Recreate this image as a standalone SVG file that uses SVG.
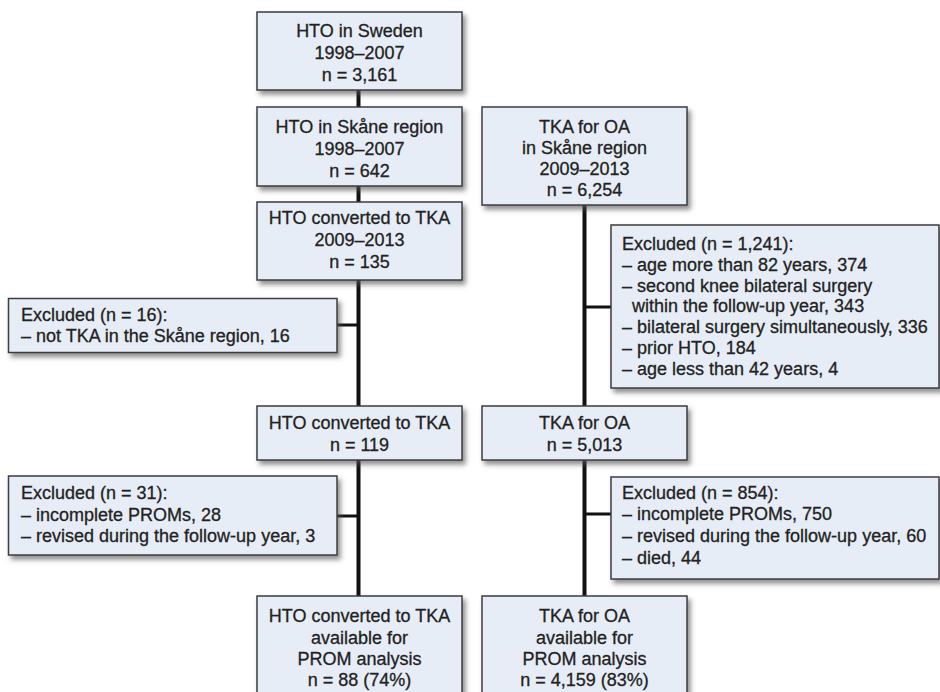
<svg xmlns="http://www.w3.org/2000/svg" width="940" height="692" viewBox="0 0 940 692">
<style>
.box{fill:#e7edf6;stroke:#3c3c3c;stroke-width:1.5;filter:url(#sh)}
text{font-family:"Liberation Sans",Arial,sans-serif;font-size:18px;fill:#222;stroke:#222;stroke-width:0.3}
.c{text-anchor:middle}
.v{stroke:#111;stroke-width:4;fill:none}
.h{stroke:#111;stroke-width:3;fill:none}
</style>
<defs>
<filter id="sh" x="-10%" y="-10%" width="130%" height="140%">
<feDropShadow dx="3" dy="4" stdDeviation="2.5" flood-color="#555" flood-opacity="0.65"/>
</filter>
</defs>
<rect width="940" height="692" fill="#fff"/>
<g id="connectors">
<path class="v" d="M358.5 90V107M358.5 186V202M358.5 280V406M358.5 460V596"/>
<path class="v" d="M584.5 205V406M584.5 460V596"/>
<path class="h" d="M337 325H358.5M337 516H358.5M584.5 307H611M584.5 514H611"/>
</g>
<g id="n1"><rect class="box" x="257" y="12" width="205" height="78"/>
<text class="c" x="359.5" y="37">HTO in Sweden</text><text class="c" x="359.5" y="59">1998–2007</text><text class="c" x="359.5" y="81">n = 3,161</text></g>
<g id="n2"><rect class="box" x="257" y="107" width="205" height="79"/>
<text class="c" x="359.5" y="133">HTO in Skåne region</text><text class="c" x="359.5" y="155">1998–2007</text><text class="c" x="359.5" y="177">n = 642</text></g>
<g id="n3"><rect class="box" x="482" y="107" width="205" height="98"/>
<text class="c" x="584.5" y="133">TKA for OA</text><text class="c" x="584.5" y="154">in Skåne region</text><text class="c" x="584.5" y="175">2009–2013</text><text class="c" x="584.5" y="196">n = 6,254</text></g>
<g id="n4"><rect class="box" x="257" y="202" width="205" height="78"/>
<text class="c" x="359.5" y="224">HTO converted to TKA</text><text class="c" x="359.5" y="246">2009–2013</text><text class="c" x="359.5" y="268">n = 135</text></g>
<g id="e1"><rect class="box" x="8.5" y="298.5" width="328.5" height="54"/>
<text x="21" y="321">Excluded (n = 16):</text><text x="21" y="342">– not TKA in the Skåne region, 16</text></g>
<g id="e2"><rect class="box" x="611" y="225" width="328" height="163"/>
<text x="622" y="250">Excluded (n = 1,241):</text><text x="622" y="271">– age more than 82 years, 374</text><text x="622" y="292">– second knee bilateral surgery</text><text x="632" y="312">within the follow-up year, 343</text><text x="622" y="333">– bilateral surgery simultaneously, 336</text><text x="622" y="354">– prior HTO, 184</text><text x="622" y="375">– age less than 42 years, 4</text></g>
<g id="n5"><rect class="box" x="257" y="406" width="205" height="54"/>
<text class="c" x="359.5" y="429">HTO converted to TKA</text><text class="c" x="359.5" y="451">n = 119</text></g>
<g id="n6"><rect class="box" x="482" y="406" width="205" height="54"/>
<text class="c" x="584.5" y="429">TKA for OA</text><text class="c" x="584.5" y="451">n = 5,013</text></g>
<g id="e3"><rect class="box" x="8.5" y="476" width="328.5" height="79"/>
<text x="21" y="499">Excluded (n = 31):</text><text x="21" y="521">– incomplete PROMs, 28</text><text x="21" y="542">– revised during the follow-up year, 3</text></g>
<g id="e4"><rect class="box" x="611" y="477" width="328" height="102"/>
<text x="622" y="499">Excluded (n = 854):</text><text x="622" y="520">– incomplete PROMs, 750</text><text x="622" y="542">– revised during the follow-up year, 60</text><text x="622" y="564">– died, 44</text></g>
<g id="n7"><rect class="box" x="257" y="596" width="205" height="110"/>
<text class="c" x="359.5" y="622">HTO converted to TKA</text><text class="c" x="359.5" y="644">available for</text><text class="c" x="359.5" y="665">PROM analysis</text><text class="c" x="359.5" y="686">n = 88 (74%)</text></g>
<g id="n8"><rect class="box" x="482" y="596" width="205" height="110"/>
<text class="c" x="584.5" y="622">TKA for OA</text><text class="c" x="584.5" y="644">available for</text><text class="c" x="584.5" y="665">PROM analysis</text><text class="c" x="584.5" y="686">n = 4,159 (83%)</text></g>
</svg>
